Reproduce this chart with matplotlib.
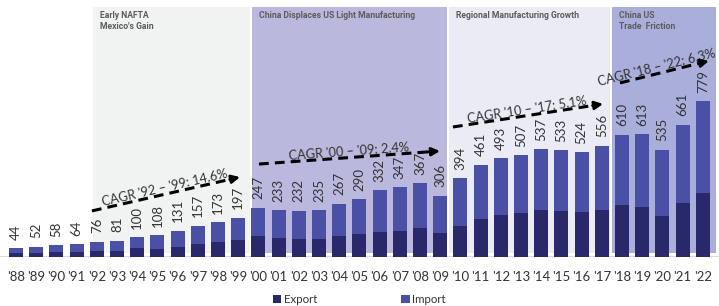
import numpy as np
import matplotlib
matplotlib.use("Agg")
import matplotlib.pyplot as plt

# data (USD bn)
years = ["'88", "'89", "'90", "'91", "'92", "'93", "'94", "'95", "'96", "'97", "'98", "'99",
         "'00", "'01", "'02", "'03", "'04", "'05", "'06", "'07", "'08", "'09",
         "'10", "'11", "'12", "'13", "'14", "'15", "'16", "'17",
         "'18", "'19", "'20", "'21", "'22"]
totals = [44, 52, 58, 64, 76, 81, 100, 108, 131, 157, 173, 197,
          247, 233, 232, 235, 267, 290, 332, 347, 367, 306,
          394, 461, 493, 507, 537, 533, 524, 556,
          610, 613, 535, 661, 779]
exports = [18, 20, 23, 26, 31, 32, 43, 40, 50, 66, 73, 83,
           106, 95, 91, 91, 106, 115, 125, 128, 145, 121,
           155, 191, 208, 220, 233, 228, 223, 236,
           258, 250, 205, 271, 318]
imports = [t - e for t, e in zip(totals, exports)]

period_titles = ["Early NAFTA\nMexico's Gain", "China Displaces US Light Manufacturing",
                 "Regional Manufacturing Growth", "China US\nTrade  Friction"]
period_start = [3.8, 11.68, 21.44, 29.5]
period_end = [11.58, 21.34, 29.4, 34.65]
period_colors = ["#f0f3f2", "#bab8dd", "#ebebf6", "#aaaedb"]

cagr_labels = ["CAGR '92 \u2013 '99: 14.6%", "CAGR '00 \u2013 '09: 2.4%",
               "CAGR '10 \u2013 '17: 5.1%", "CAGR '18 \u2013 '22: 6.3%"]
cagr_x0 = [3.76, 12.03, 21.63, 29.9]
cagr_y0 = [230, 464, 649, 869]
cagr_x1 = [11.09, 20.99, 29.06, 34.3]
cagr_y1 = [399, 529, 764, 979]
cagr_shift = [0, 0, 0, -0.3]   # label nudge along x, in bar units

EXPORT_COLOR = "#29286a"
IMPORT_COLOR = "#4a50a5"
TEXT_COLOR = "#333333"

plt.rcParams["font.family"] = ["Lato", "DejaVu Sans"]

fig = plt.figure(figsize=(7.19, 3.06), dpi=100)
ax = fig.add_axes([0, 49 / 306, 1, 250 / 306])
ax.set_xlim(-0.79, 34.8)
ax.set_ylim(0, 1248)
for s in ax.spines.values():
    s.set_visible(False)
ax.set_yticks([])

x = np.arange(len(years))

# background periods
for title, x0, x1, c in zip(period_titles, period_start, period_end, period_colors):
    ax.fill_between([x0, x1], 20, 1248, color=c, lw=0, zorder=0)
    ax.text(x0 + 0.35, 1228, title, fontsize=6.2, fontweight="bold", color="#5c5c5c",
            family="Roboto", ha="left", va="top", linespacing=1.3, zorder=1)

ax.axhline(0, color="#dcdcdc", lw=1.5, zorder=1)

w = 0.69
ax.bar(x, exports, width=w, color=EXPORT_COLOR, label="Export", zorder=2)
ax.bar(x, imports, width=w, bottom=exports, color=IMPORT_COLOR, label="Import", zorder=2)

for xi, t in zip(x, totals):
    ax.annotate(str(t), (xi, t), xytext=(0, 6), textcoords="offset points",
                rotation=90, ha="center", va="bottom", fontsize=9.5, color=TEXT_COLOR)

ax.set_xticks(x)
ax.set_xticklabels(years, fontsize=9.5, color=TEXT_COLOR)
ax.tick_params(axis="x", length=0, pad=10)

# CAGR trend arrows
for lab, xa, ya, xb, yb, sh in zip(cagr_labels, cagr_x0, cagr_y0, cagr_x1, cagr_y1, cagr_shift):
    pa = ax.transData.transform((xa, ya))
    pb = ax.transData.transform((xb, yb))
    ang = np.degrees(np.arctan2(pb[1] - pa[1], pb[0] - pa[0]))
    # stop dashed line short of the head
    frac = 0.93
    xm_, ym_ = xa + (xb - xa) * frac, ya + (yb - ya) * frac
    ax.plot([xa, xm_], [ya, ym_], color="black", lw=2.2, dashes=(3.2, 2.0),
            solid_capstyle="butt", zorder=4)
    ax.annotate("", xy=(xb, yb), xytext=(xm_, ym_),
                arrowprops=dict(arrowstyle="-|>", color="black", lw=2.0,
                                mutation_scale=12, shrinkA=0, shrinkB=0), zorder=4)
    xc = (xa + xb) / 2 + sh
    yc = ya + (yb - ya) * (xc - xa) / (xb - xa)
    ax.text(xc, yc, lab, rotation=ang, rotation_mode="anchor",
            ha="center", va="bottom", fontsize=9.2, color=TEXT_COLOR, zorder=3)

fig.legend(loc="lower center", bbox_to_anchor=(0.5, -0.03), ncol=2, frameon=False,
           handlelength=0.7, handleheight=0.7, handletextpad=0.25, columnspacing=7.3,
           fontsize=8.3, labelcolor=TEXT_COLOR)

fig.savefig("out.png", dpi=100)
